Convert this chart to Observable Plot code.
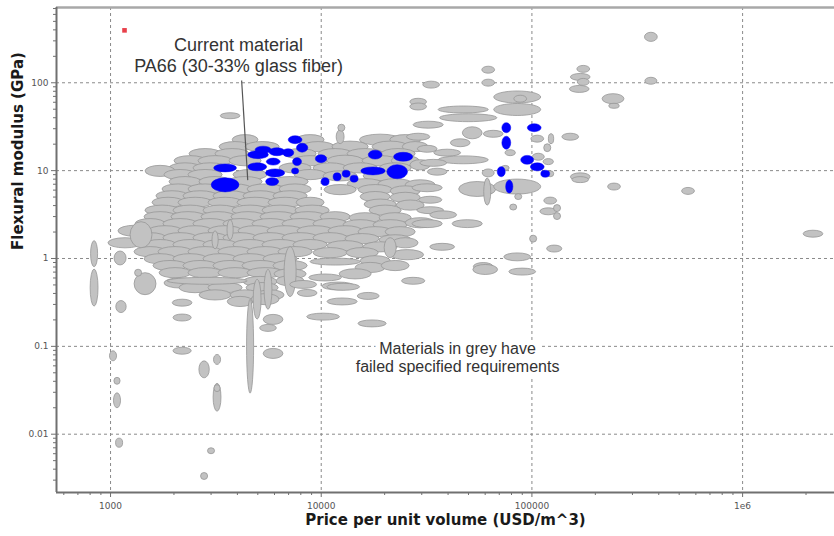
<!DOCTYPE html>
<html><head><meta charset="utf-8">
<script src="https://cdn.jsdelivr.net/npm/d3@7"></script>
<script src="https://cdn.jsdelivr.net/npm/@observablehq/plot@0.6"></script>
<style>body{margin:0;background:#fff;}</style>
</head><body><div id="chart"></div>
<script>
const xTicks = [1000, 10000, 100000, 1000000];
const xTickLabels = ["1000", "10000", "100000", "1e6"];
const yTicks = [0.01, 0.1, 1, 10, 100];
const yTickLabels = ["0.01", "0.1", "1", "10", "100"];
const xDomain = [554, 2730000];
const yDomain = [0.00217, 719];
const xTitle = "Price per unit volume (USD/m^3)";
const yTitle = "Flexural modulus (GPa)";

// [price (USD/m^3), flexural modulus (GPa), price range hi/lo, modulus range hi/lo]
// densely packed main cluster of failed materials
const greyCluster = [
  [4375,22.2,1.24,1.20],[8906,22.2,1.27,1.20],[19150,22.2,1.47,1.23],[25170,22.2,1.31,1.20],
  [3922,18.5,1.33,1.20],[5270,18.5,1.36,1.20],[9720,18.5,1.33,1.20],[13790,18.5,1.39,1.23],[21360,18.5,1.39,1.23],[28070,18.5,1.24,1.20],
  [2826,15.4,1.33,1.20],[3797,15.4,1.36,1.20],[7983,15.4,1.33,1.20],[11710,15.4,1.36,1.20],[16250,15.4,1.39,1.20],[23300,15.4,1.36,1.20],
  [2398,12.8,1.33,1.20],[3152,12.8,1.36,1.20],[4375,12.8,1.33,1.20],[8906,12.8,1.36,1.20],[13060,12.8,1.39,1.23],[19150,12.8,1.39,1.20],[25170,12.8,1.27,1.20],
  [2271,10.6,1.33,1.20],[2984,10.6,1.36,1.20],[7558,10.6,1.33,1.20],[11080,10.6,1.36,1.20],[15390,10.6,1.36,1.20],[22560,10.6,1.33,1.20],[29650,11.5,1.17,1.20],
  [1728,9.8,1.30,1.23],[2150,8.9,1.33,1.20],[2826,8.9,1.36,1.20],[4621,8.9,1.36,1.20],[8906,8.9,1.33,1.20],[12360,8.6,1.36,1.20],[19150,8.6,1.36,1.20],
  [2271,7.4,1.33,1.20],[3152,7.4,1.33,1.20],[4375,7.4,1.36,1.20],[7156,7.4,1.39,1.20],[16250,7.0,1.39,1.20],[22560,7.0,1.36,1.20],[29650,6.8,1.30,1.20],
  [2103,6.1,1.33,1.20],[2826,6.1,1.36,1.20],[3922,6.1,1.36,1.20],[5445,6.1,1.39,1.20],[7558,6.1,1.33,1.20],[12360,6.0,1.33,1.20],[18130,6.0,1.36,1.20],[25170,5.8,1.30,1.20],
  [1968,5.1,1.33,1.20],[2675,5.1,1.36,1.20],[3714,5.1,1.36,1.20],[5155,5.1,1.36,1.20],[7156,5.1,1.36,1.20],[18130,5.0,1.30,1.20],[25170,4.9,1.30,1.20],
  [1886,4.3,1.33,1.20],[2533,4.3,1.36,1.20],[3516,4.3,1.36,1.20],[4881,4.3,1.39,1.20],[6776,4.3,1.36,1.20],[8906,4.3,1.27,1.20],[19150,4.1,1.33,1.20],[26580,4.0,1.27,1.20],
  [1765,3.5,1.36,1.20],[2398,3.5,1.36,1.20],[3329,3.5,1.36,1.20],[4621,3.5,1.39,1.20],[6415,3.5,1.39,1.20],[9100,3.5,1.36,1.20],[20220,3.5,1.33,1.20],
  [1728,2.95,1.33,1.20],[2346,2.95,1.36,1.20],[3256,2.95,1.36,1.20],[4520,2.95,1.36,1.20],[6276,2.95,1.39,1.20],[8715,2.95,1.39,1.20],[11710,2.95,1.30,1.20],[16250,2.87,1.33,1.20],[22560,2.87,1.33,1.20],
  [1549,2.46,1.30,1.20],[2150,2.46,1.36,1.20],[2984,2.46,1.36,1.20],[4143,2.46,1.36,1.20],[5751,2.46,1.39,1.20],[7983,2.46,1.39,1.20],[11080,2.46,1.36,1.20],[15390,2.39,1.36,1.20],[21360,2.39,1.36,1.20],[29650,2.52,1.30,1.20],
  [1314,2.04,1.36,1.23],[1825,2.04,1.36,1.20],[2533,2.04,1.36,1.20],[3516,2.04,1.36,1.20],[4881,2.04,1.36,1.20],[6776,2.04,1.39,1.20],[9406,2.04,1.39,1.20],[13060,2.04,1.36,1.20],[18130,1.99,1.36,1.20],[23830,1.99,1.30,1.20],
  [1549,1.70,1.33,1.20],[2150,1.70,1.36,1.20],[2984,1.70,1.36,1.20],[4143,1.70,1.36,1.20],[5751,1.70,1.36,1.20],[7983,1.70,1.39,1.20],[11080,1.70,1.36,1.20],[15730,1.66,1.36,1.20],[22560,1.61,1.33,1.20],
  [1178,1.49,1.36,1.20],[1728,1.42,1.33,1.20],[2398,1.42,1.36,1.20],[3329,1.42,1.36,1.20],[4621,1.42,1.36,1.20],[6415,1.42,1.39,1.20],[8906,1.42,1.36,1.20],[13060,1.38,1.39,1.20],[19150,1.34,1.36,1.20],[25170,1.49,1.24,1.20],
  [1549,1.18,1.33,1.20],[2036,1.18,1.36,1.20],[2826,1.18,1.36,1.20],[3922,1.18,1.36,1.20],[5445,1.18,1.39,1.20],[7558,1.18,1.36,1.20],[11080,1.15,1.36,1.20],[15730,1.15,1.33,1.20],[25720,1.09,1.34,1.20],
  [1728,0.98,1.33,1.20],[2398,0.98,1.36,1.20],[3329,0.98,1.36,1.20],[4621,0.98,1.36,1.20],[6415,0.98,1.36,1.20],[18130,0.93,1.30,1.20],
  [1927,0.82,1.36,1.20],[2675,0.82,1.36,1.20],[3714,0.82,1.36,1.20],[5155,0.82,1.39,1.20],[7156,0.82,1.36,1.20],[17160,0.78,1.30,1.20],[22560,0.82,1.27,1.20],
  [2036,0.68,1.33,1.20],[2826,0.68,1.36,1.20],[3922,0.68,1.36,1.20],[5445,0.68,1.39,1.20],[7156,0.66,1.33,1.20],[14570,0.66,1.33,1.20],
  [2150,0.52,1.33,1.20],[5155,0.54,1.36,1.20],[7156,0.55,1.27,1.20],[2533,0.46,1.33,1.20],[3516,0.46,1.36,1.20],[5270,0.46,1.33,1.20],
  [3152,0.38,1.33,1.20],[4375,0.38,1.30,1.20],[5751,0.38,1.27,1.20],[4143,0.32,1.24,1.20],[5445,0.34,1.27,1.23]
];

// individually visible failed materials
const greyScattered = [
  [21360,1.31,1.14,1.69],
  [1403,1.84,1.27,1.98],[7156,0.70,1.14,3.70],[5620,0.44,1.09,2.85],[4990,0.34,1.09,2.85],[3714,2.10,1.07,1.69],[3152,1.61,1.07,1.60],
  [2890,0.55,2.40,1.20],[4621,0.099,1.08,11.7],
  [3714,41.6,1.24,1.17],[369000,329,1.15,1.27],[369000,104,1.14,1.20],[176200,142,1.15,1.20],[170500,115,1.24,1.20],[176200,101,1.14,1.20],[168700,84,1.24,1.20],
  [244000,65,1.27,1.30],[246600,54,1.12,1.14],[62360,139,1.15,1.20],[62360,99,1.15,1.20],[33440,94,1.20,1.20],
  [85620,68,1.67,1.37],[88490,65,1.15,1.20],[85620,49,1.67,1.37],[29010,60,1.20,1.20],[29010,53,1.20,1.20],[47450,49,1.73,1.20],[50110,39.5,1.87,1.23],
  [32360,32.9,1.39,1.20],[65870,25.9,1.24,1.20],[52350,26.6,1.24,1.37],[45920,20.5,1.24,1.23],[29010,24.0,1.29,1.20],[32000,17.5,1.24,1.20],[39830,15.8,1.34,1.20],
  [47450,13.1,1.73,1.23],[34190,12.1,1.34,1.20],[35700,9.6,1.24,1.20],[106600,22.8,1.15,1.20],[123900,22.8,1.06,1.30],[118900,18.0,1.08,1.23],[107800,14.2,1.14,1.20],
  [120200,12.5,1.12,1.17],[152900,24.0,1.20,1.20],[122800,9.1,1.08,1.17],[79300,15.8,1.12,1.17],[75100,10.6,1.09,1.14],[62360,9.3,1.14,1.23],
  [55300,6.1,1.50,1.48],[61700,5.7,1.08,2.03],[85620,6.5,1.67,1.48],[86570,5.0,1.08,1.17],[81960,3.8,1.08,1.17],[170500,8.4,1.24,1.23],[170500,7.8,1.20,1.17],
  [246600,6.5,1.15,1.20],[553700,5.8,1.15,1.20],[2170000,1.89,1.24,1.20],[122800,4.5,1.15,1.20],[120200,3.4,1.20,1.20],[132300,3.7,1.08,1.20],[132300,3.0,1.08,1.20],
  [101900,1.66,1.08,1.20],[128300,1.28,1.18,1.20],[85620,1.03,1.34,1.23],[37700,1.34,1.31,1.20],[33080,3.5,1.34,1.20],[32000,2.46,1.39,1.23],[49570,2.46,1.39,1.23],
  [38130,3.1,1.34,1.23],[33080,4.6,1.29,1.20],[32000,6.3,1.39,1.23],[59040,0.80,1.24,1.23],[60350,0.74,1.31,1.30],[90450,0.70,1.34,1.20],[27470,0.55,1.29,1.20],
  [840,1.12,1.08,1.98],[840,0.46,1.09,2.64],[1116,1.0,1.14,1.44],[1466,0.51,1.27,1.78],[1359,0.68,1.08,1.20],[1127,0.28,1.12,1.37],
  [2198,0.31,1.24,1.20],[2198,0.21,1.22,1.20],[2198,0.088,1.22,1.20],[1033,0.077,1.08,1.30],[1079,0.040,1.07,1.20],[1079,0.024,1.08,1.48],[1104,0.0079,1.08,1.27],
  [2795,0.054,1.12,1.56],[3220,0.070,1.08,1.30],[3220,0.026,1.09,2.08],[3220,0.033,1.07,1.20],[3015,0.0064,1.08,1.17],[2795,0.0033,1.08,1.20],
  [5940,0.082,1.24,1.30],[5940,0.20,1.24,1.30],[5620,0.16,1.20,1.20],[10260,0.215,1.43,1.20],[12630,0.32,1.39,1.20],[17530,0.18,1.36,1.20],[16800,0.37,1.27,1.20],
  [12100,0.48,1.43,1.23],[8250,0.50,1.34,1.23],[8620,0.40,1.24,1.20],[10490,0.60,1.43,1.20],[12780,0.47,1.43,1.20],[11706,0.91,1.73,1.20],
  [12363,24.0,1.09,1.44],[12530,30.4,1.08,1.20]
];

// materials passing the requirements (blue)
const blueMaterials = [
  [3516,10.6,1.27,1.20],[3516,6.8,1.34,1.41],[4990,10.9,1.22,1.20],[5040,15.0,1.24,1.20],[5330,17.1,1.18,1.17],[6200,16.2,1.18,1.20],
  [5950,12.5,1.15,1.17],[6074,9.3,1.22,1.20],[5880,7.4,1.14,1.20],[7000,15.8,1.12,1.20],[7558,22.2,1.15,1.20],[8160,18.0,1.12,1.23],
  [7720,12.5,1.09,1.20],[7558,9.8,1.07,1.14],[10030,13.5,1.12,1.20],[10490,7.4,1.08,1.20],[11960,8.4,1.08,1.20],[13200,9.1,1.08,1.17],
  [14400,8.0,1.08,1.17],[18130,15.0,1.15,1.23],[17700,9.8,1.29,1.20],[23060,9.6,1.24,1.41],[24620,14.2,1.22,1.23],
  [76000,30.4,1.09,1.27],[76000,20.5,1.09,1.37],[103100,30.4,1.15,1.20],[95500,13.1,1.14,1.23],[106600,10.9,1.15,1.20],
  [116300,9.1,1.09,1.17],[71900,9.6,1.08,1.27],[78500,6.5,1.07,1.37]
];

const markerPoint = [{price: 1165, modulus: 395}];
const calloutLine = [{p1: 4190, m1: 106, p2: 4480, m2: 7.8}];
const calloutText = [
  {price: 4050, modulus: 267, label: "Current material"},
  {price: 4050, modulus: 154, label: "PA66 (30-33% glass fiber)"}
];
const noteText = [
  {price: 44360, modulus: 0.093, label: "Materials in grey have"},
  {price: 44360, modulus: 0.058, label: "failed specified requirements"}
];

const toRect = d => ({
  x1: d[0] / Math.sqrt(d[2]), x2: d[0] * Math.sqrt(d[2]),
  y1: d[1] / Math.sqrt(d[3]), y2: d[1] * Math.sqrt(d[3])
});

const minorX = [], minorY = [];
for (const dec of [100, 1000, 10000, 100000, 1000000]) for (let k = 2; k <= 9; k++) {
  const v = dec * k; if (v > xDomain[0] && v < xDomain[1]) minorX.push(v);
}
for (const dec of [0.001, 0.01, 0.1, 1, 10, 100]) for (let k = 2; k <= 9; k++) {
  const v = dec * k; if (v > yDomain[0] && v < yDomain[1]) minorY.push(v);
}

const axisColor = "#707070";
const greyStyle = {x1: "x1", x2: "x2", y1: "y1", y2: "y2", fill: "#c2c2c2", stroke: "#979797", strokeWidth: 0.8, rx: 2000, ry: 2000};
const chart = Plot.plot({
  width: 834, height: 536,
  marginLeft: 56, marginRight: 0, marginTop: 7, marginBottom: 44,
  x: {type: "log", domain: xDomain},
  y: {type: "log", domain: yDomain},
  style: {fontFamily: "DejaVu Sans", background: "white", overflow: "visible"},
  marks: [
    Plot.gridX(xTicks, {stroke: "#8a8a8a", strokeOpacity: 1, strokeDasharray: "3,3", strokeWidth: 1}),
    Plot.gridY(yTicks, {stroke: "#8a8a8a", strokeOpacity: 1, strokeDasharray: "3,3", strokeWidth: 1}),
    Plot.rect(greyCluster.map(toRect), {...greyStyle, insetLeft: -3, insetRight: -3, insetTop: -1.6, insetBottom: -1.6}),
    Plot.rect(greyScattered.map(toRect), greyStyle),
    Plot.rect(blueMaterials.map(toRect), {x1: "x1", x2: "x2", y1: "y1", y2: "y2", fill: "#0000ff", stroke: "#0000f0", strokeWidth: 0.5, rx: 2000, ry: 2000, insetLeft: -0.5, insetRight: -0.5, insetTop: -0.5, insetBottom: -0.5}),
    Plot.dot(markerPoint, {x: "price", y: "modulus", symbol: "square", r: 2.6, fill: "#e8404a", stroke: "none"}),
    Plot.link(calloutLine, {x1: "p1", y1: "m1", x2: "p2", y2: "m2", stroke: "#555", strokeWidth: 1.2}),
    Plot.text(calloutText, {x: "price", y: "modulus", text: "label", fontFamily: "Liberation Sans", fontSize: 18, fill: "#333"}),
    Plot.text(noteText, {x: "price", y: "modulus", text: "label", fontFamily: "Liberation Sans", fontSize: 16, fill: "#333", stroke: "white", strokeWidth: 10}),
    Plot.ruleY([yDomain[1]], {stroke: "#a8a8a8", strokeWidth: 2.5}),
    Plot.ruleY([yDomain[0]], {stroke: axisColor, strokeWidth: 2}),
    Plot.ruleX([xDomain[0]], {stroke: axisColor, strokeWidth: 2}),
    Plot.axisX(minorX, {tickSize: 3, tickFormat: () => "", stroke: axisColor}),
    Plot.axisX(xTicks, {tickSize: 5, tickPadding: 5, tickFormat: d => xTickLabels[xTicks.indexOf(d)], fontSize: 9, fill: "#555", stroke: axisColor, label: null}),
    Plot.axisY(minorY, {tickSize: 3, tickFormat: () => "", stroke: axisColor}),
    Plot.axisY(yTicks, {tickSize: 5, tickPadding: 3, tickFormat: d => yTickLabels[yTicks.indexOf(d)], fontSize: 9, fill: "#555", stroke: axisColor, label: null}),
    Plot.text([xTitle], {frameAnchor: "bottom", dy: 32, fontSize: 15, fontWeight: "bold", fill: "#1a1a1a", text: d => d}),
    Plot.text([yTitle], {frameAnchor: "left", dx: -38, rotate: -90, fontSize: 15, fontWeight: "bold", fill: "#1a1a1a", text: d => d})
  ]
});
document.getElementById("chart").appendChild(chart);
</script>
</body></html>
